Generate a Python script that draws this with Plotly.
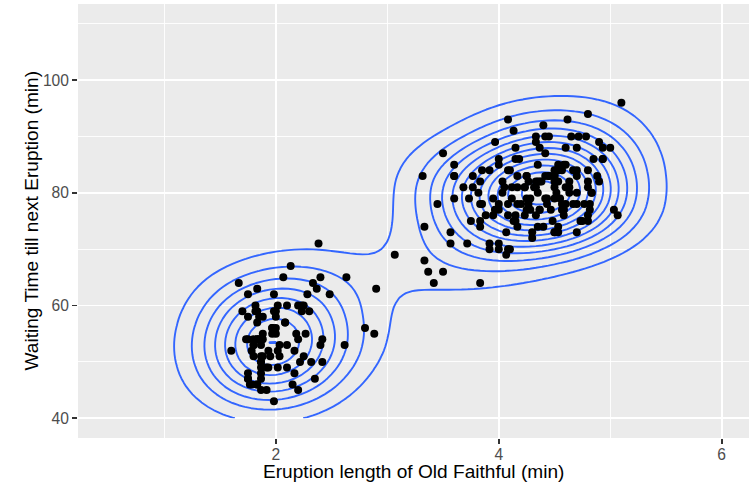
import numpy as np
import plotly.graph_objects as go

eruptions = [3.600,1.800,3.333,2.283,4.533,2.883,4.700,3.600,1.950,4.350,1.833,3.917,4.200,1.750,4.700,2.167,1.750,4.800,1.600,4.250,
1.800,1.750,3.450,3.067,4.533,3.600,1.967,4.083,3.850,4.433,4.300,4.467,3.367,4.033,3.833,2.017,1.867,4.833,1.833,4.783,
4.350,1.883,4.567,1.750,4.533,3.317,3.833,2.100,4.633,2.000,4.800,4.716,1.833,4.833,1.733,4.883,3.717,1.667,4.567,4.317,
2.233,4.500,1.750,4.800,1.817,4.400,4.167,4.700,2.067,4.700,4.033,1.967,4.500,4.000,1.983,5.067,2.017,4.567,3.883,3.600,
4.133,4.333,4.100,2.633,4.067,4.933,3.950,4.517,2.167,4.000,2.200,4.333,1.867,4.817,1.833,4.300,4.667,3.750,1.867,4.900,
2.483,4.367,2.100,4.500,4.050,1.867,4.700,1.783,4.850,3.683,4.733,2.300,4.900,4.417,1.700,4.633,2.317,4.600,1.817,4.417,
2.617,4.067,4.250,1.967,4.600,3.767,1.917,4.500,2.267,4.650,1.867,4.167,2.800,4.333,1.833,4.383,1.883,4.933,2.033,3.733,
4.233,2.233,4.533,4.817,4.333,1.983,4.633,2.017,5.100,1.800,5.033,4.000,2.400,4.600,3.567,4.000,4.500,4.083,1.800,3.967,
2.200,4.150,2.000,3.833,3.500,4.583,2.367,5.000,1.933,4.617,1.917,2.083,4.583,3.333,4.167,4.333,4.500,2.417,4.000,4.167,
1.883,4.583,4.250,3.767,2.033,4.433,4.083,1.833,4.417,2.183,4.800,1.833,4.800,4.100,3.966,4.233,3.500,4.366,2.250,4.667,
2.100,4.350,4.133,1.867,4.600,1.783,4.367,3.850,1.933,4.500,2.383,4.700,1.867,3.833,3.417,4.233,2.400,4.800,2.000,4.150,
1.867,4.267,1.750,4.483,4.000,4.117,4.083,4.267,3.917,4.550,4.083,2.417,4.183,2.217,4.450,1.883,1.850,4.283,3.950,2.333,
4.150,2.350,4.933,2.900,4.583,3.833,2.083,4.367,2.133,4.350,2.200,4.450,3.567,4.500,4.150,3.817,3.917,4.450,2.000,4.283,
4.767,4.533,1.850,4.250,1.983,2.250,4.750,4.117,2.150,4.417,1.767,4.400]
waiting = [79,54,74,62,85,55,88,85,51,85,54,84,78,47,83,52,62,84,52,79,
51,47,78,69,74,83,55,76,78,79,73,77,66,80,74,52,48,80,59,90,
80,58,84,58,73,83,64,53,82,59,75,90,54,80,54,83,71,64,77,81,
59,84,48,82,60,92,78,78,65,73,82,56,79,71,62,76,60,78,76,83,
75,82,70,65,73,88,76,80,48,86,60,90,50,78,63,72,84,75,51,82,
62,88,49,83,81,47,84,52,86,81,75,59,89,79,59,81,50,85,59,87,
53,69,77,56,88,81,45,82,55,90,45,83,56,89,46,82,51,86,53,79,
81,60,82,77,76,59,80,49,96,53,77,77,65,81,71,70,81,93,53,89,
45,86,58,78,66,76,63,88,52,93,49,57,77,68,81,81,73,50,85,74,
55,77,83,83,51,78,84,46,83,55,81,57,76,84,77,81,87,77,51,78,
60,82,91,53,78,46,77,84,49,83,71,80,49,75,64,76,53,94,55,76,
50,82,54,75,78,79,78,78,70,79,70,54,86,50,90,54,54,77,79,64,
75,47,86,63,85,82,57,82,67,74,54,83,73,73,88,80,71,83,56,79,
78,84,58,83,43,60,75,81,46,90,46,74]

x_lims = [0.5, 6]
y_lims = [40, 110]
x_ticks = [2, 4, 6]
y_ticks = [40, 60, 80, 100]
x_title = "Eruption length of Old Faithful (min)"
y_title = "Waiting Time till next Eruption (min)"

x = np.array(eruptions, dtype=float)
y = np.array(waiting, dtype=float)
n = len(x)

def bw_nrd(v):
    q = np.percentile(v, [25, 75])
    h = (q[1] - q[0]) / 1.34
    return 4 * 1.06 * min(np.std(v, ddof=1), h) * len(v) ** (-0.2)

hx = bw_nrd(x) / 4
hy = bw_nrd(y) / 4
gx = np.linspace(x_lims[0], x_lims[1], 100)
gy = np.linspace(y_lims[0], y_lims[1], 100)
phi = lambda u: np.exp(-0.5 * u ** 2) / np.sqrt(2 * np.pi)
ax = phi((gx[:, None] - x[None, :]) / hx)
ay = phi((gy[:, None] - y[None, :]) / hy)
z = ay @ ax.T / (n * hx * hy)

def pretty(lo, hi, ndiv=10):
    h, h5 = 1.5, 0.5 + 1.5 * 1.5
    dx = hi - lo
    cell = dx / ndiv
    base = 10 ** np.floor(np.log10(cell))
    unit = base
    if 2 * base - cell < h * (cell - unit):
        unit = 2 * base
        if 5 * base - cell < h5 * (cell - unit):
            unit = 5 * base
            if 10 * base - cell < h * (cell - unit):
                unit = 10 * base
    ns = np.floor(lo / unit + 1e-7)
    nu = np.ceil(hi / unit - 1e-7)
    return unit, ns * unit, nu * unit

unit, b0, b1 = pretty(z.min(), z.max())
start = b0 if b0 > z.min() else b0 + unit

FONT = "Liberation Sans, Arial, sans-serif"

fig = go.Figure()
fig.add_trace(go.Contour(
    x=gx, y=gy, z=z,
    contours=dict(start=start, end=b1, size=unit, coloring="lines"),
    colorscale=[[0, "#3366FF"], [1, "#3366FF"]],
    line=dict(width=1.9, smoothing=0),
    showscale=False, hoverinfo="skip",
))
fig.add_trace(go.Scatter(
    x=eruptions, y=waiting, mode="markers",
    marker=dict(color="black", size=8, line=dict(width=0)),
    hoverinfo="skip",
))

axis_common = dict(
    showgrid=True, gridcolor="white", gridwidth=1.8,
    zeroline=False, showline=False, automargin=False,
    ticks="outside", ticklen=4.9, tickwidth=1.8, tickcolor="#333333",
    tickfont=dict(family=FONT, size=15.6, color="#4D4D4D"),
)
fig.update_layout(
    width=749, height=486,
    margin=dict(l=78, r=0, t=4, b=48, autoexpand=False),
    paper_bgcolor="white", plot_bgcolor="#EBEBEB",
    showlegend=False,
    xaxis=dict(range=[0.225, 6.245], tickvals=x_ticks, ticklabelstandoff=-3,
               minor=dict(tickvals=[1, 3, 5], showgrid=True, gridcolor="white", gridwidth=0.9, ticks=""),
               **axis_common),
    yaxis=dict(range=[36.5, 113.5], tickvals=y_ticks,
               minor=dict(tickvals=[50, 70, 90, 110], showgrid=True, gridcolor="white", gridwidth=0.9, ticks=""),
               **axis_common),
    annotations=[
        dict(text=x_title, xref="paper", yref="paper", x=0.5, y=0,
             xanchor="center", yanchor="middle", yshift=-33, showarrow=False,
             font=dict(family=FONT, size=19.1, color="black")),
        dict(text=y_title, xref="paper", yref="paper", x=0, y=0.5, textangle=-90,
             xanchor="center", yanchor="middle", xshift=-47.5, showarrow=False,
             font=dict(family=FONT, size=19.1, color="black")),
    ],
)
fig.write_html("out.html", config={"displayModeBar": False, "staticPlot": True},
               post_script="document.body.style.margin='0';")
